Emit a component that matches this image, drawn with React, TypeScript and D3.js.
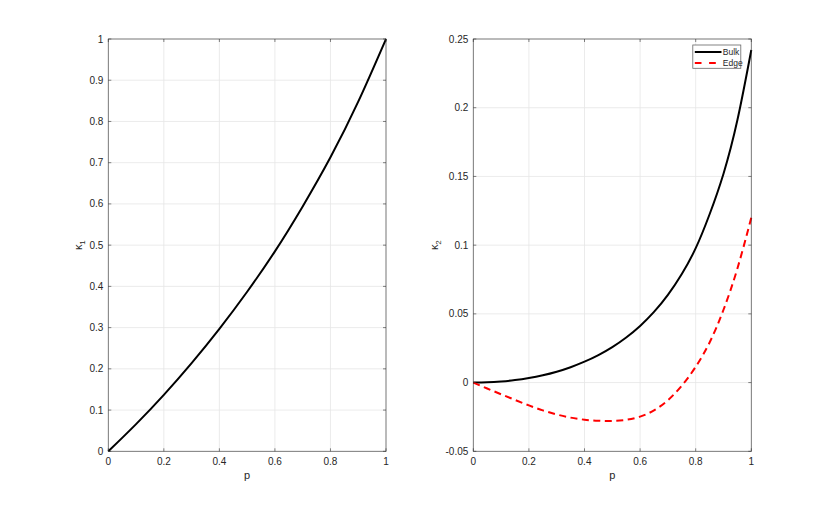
import React from "react";
import * as d3 from "d3";

const pLeft = [0, 0.1, 0.2, 0.3, 0.4, 0.5, 0.6, 0.7, 0.8, 0.9, 1.0];
const kappa1 = [0, 0.066, 0.137, 0.214, 0.297, 0.387, 0.485, 0.594, 0.713, 0.848, 1.0];

const pRight = [0, 0.05, 0.1, 0.15, 0.2, 0.25, 0.3, 0.35, 0.4, 0.45, 0.5, 0.55, 0.6, 0.65, 0.7, 0.75, 0.8, 0.85, 0.9, 0.95, 1.0];
const bulk = [0, 0.0002, 0.0008, 0.0018, 0.0033, 0.0053, 0.0079, 0.0112, 0.0152, 0.02, 0.0258, 0.0328, 0.0412, 0.0514, 0.0638, 0.079, 0.0978, 0.1225, 0.152, 0.191, 0.242];
const edge = [0, -0.0043, -0.0085, -0.0126, -0.0166, -0.0202, -0.0232, -0.0255, -0.027, -0.0278, -0.0279, -0.0271, -0.0248, -0.0202, -0.0128, -0.0022, 0.0115, 0.0292, 0.053, 0.083, 0.12];

const xTicks = [0, 0.2, 0.4, 0.6, 0.8, 1];
const xTickLabels = ["0", "0.2", "0.4", "0.6", "0.8", "1"];
const yTicksLeft = [0, 0.1, 0.2, 0.3, 0.4, 0.5, 0.6, 0.7, 0.8, 0.9, 1];
const yTickLabelsLeft = ["0", "0.1", "0.2", "0.3", "0.4", "0.5", "0.6", "0.7", "0.8", "0.9", "1"];
const yTicksRight = [-0.05, 0, 0.05, 0.1, 0.15, 0.2, 0.25];
const yTickLabelsRight = ["-0.05", "0", "0.05", "0.1", "0.15", "0.2", "0.25"];
const legendLabels = ["Bulk", "Edge"];

const FONT = "'Liberation Sans', Arial, Helvetica, sans-serif";
const AX = "#262626";
const GRID = "#e6e6e6";

type Series = { xs: number[]; ys: number[]; color: string; dash?: string; legendDash?: string };

function Panel(props: {
  left: number; top: number; width: number; height: number;
  yDomain: [number, number]; yTicks: number[]; yLabels: string[];
  ylab: string; ylabOffset: number; series: Series[]; legend?: boolean;
}) {
  const { left, top, width, height, yDomain, yTicks, yLabels, ylab, ylabOffset, series, legend } = props;
  const x = d3.scaleLinear().domain([0, 1]).range([left, left + width]);
  const y = d3.scaleLinear().domain(yDomain).range([top + height, top]);
  const tl = 3;
  return (
    <g>
      <rect x={left} y={top} width={width} height={height} fill="white" />
      {xTicks.map((t, i) => (
        <line key={"gx" + i} x1={x(t)} x2={x(t)} y1={top} y2={top + height} stroke={GRID} strokeWidth={0.8} />
      ))}
      {yTicks.map((t, i) => (
        <line key={"gy" + i} x1={left} x2={left + width} y1={y(t)} y2={y(t)} stroke={GRID} strokeWidth={0.8} />
      ))}
      {series.map((s, i) => {
        const line = d3.line<number>().x((_, j) => x(s.xs[j])).y((v) => y(v)).curve(d3.curveNatural);
        return (
          <path key={"s" + i} d={line(s.ys) || ""} fill="none" stroke={s.color} strokeWidth={2}
            strokeDasharray={s.dash} />
        );
      })}
      <rect x={left} y={top} width={width} height={height} fill="none" stroke={AX} strokeOpacity={0.7} strokeWidth={0.8} />
      {xTicks.map((t, i) => (
        <g key={"tx" + i}>
          <line x1={x(t)} x2={x(t)} y1={top + height} y2={top + height - tl} stroke={AX} strokeWidth={0.8} strokeOpacity={0.7} />
          <line x1={x(t)} x2={x(t)} y1={top} y2={top + tl} stroke={AX} strokeWidth={0.8} strokeOpacity={0.7} />
          <text x={x(t)} y={top + height + 14} textAnchor="middle" fontSize={10} fill={AX} fontFamily={FONT}>{xTickLabels[i]}</text>
        </g>
      ))}
      {yTicks.map((t, i) => (
        <g key={"ty" + i}>
          <line x1={left} x2={left + tl} y1={y(t)} y2={y(t)} stroke={AX} strokeWidth={0.8} strokeOpacity={0.7} />
          <line x1={left + width} x2={left + width - tl} y1={y(t)} y2={y(t)} stroke={AX} strokeWidth={0.8} strokeOpacity={0.7} />
          <text x={left - 5} y={y(t) + 3.5} textAnchor="end" fontSize={10} fill={AX} fontFamily={FONT}>{yLabels[i]}</text>
        </g>
      ))}
      <text x={left + width / 2} y={top + height + 28} textAnchor="middle" fontSize={11} fill={AX} fontFamily={FONT}>p</text>
      <text transform={`translate(${left - ylabOffset},${top + height / 2}) rotate(-90)`} textAnchor="middle" fontSize={11} fill={AX} fontFamily={FONT}>
        {"\u03ba"}<tspan fontSize={8} dy={3}>{ylab}</tspan>
      </text>
      {legend && (
        <g>
          <rect x={left + width - 58.5} y={top + 6} width={48} height={23.3} fill="white" stroke={AX} strokeOpacity={0.7} strokeWidth={0.8} />
          {series.map((s, i) => (
            <g key={"lg" + i}>
              <line x1={left + width - 56.5} x2={left + width - 29.8} y1={top + 13 + i * 11} y2={top + 13 + i * 11}
                stroke={s.color} strokeWidth={2} strokeDasharray={s.legendDash} />
              <text x={left + width - 28.5} y={top + 16 + i * 11} fontSize={8.5} fill={AX} fontFamily={FONT}>{legendLabels[i]}</text>
            </g>
          ))}
        </g>
      )}
    </g>
  );
}

export default function App() {
  return (
    <svg width={830} height={507} style={{ position: "absolute", left: 0, top: 0, background: "white" }}>
      <rect x={0} y={0} width={830} height={507} fill="white" />
      <Panel left={108.3} top={39} width={277.7} height={412.3} yDomain={[0, 1]} yTicks={yTicksLeft}
        yLabels={yTickLabelsLeft} ylab="1" ylabOffset={26} series={[{ xs: pLeft, ys: kappa1, color: "#000000" }]} />
      <Panel left={473.3} top={39} width={278} height={412.3} yDomain={[-0.05, 0.25]} yTicks={yTicksRight}
        yLabels={yTickLabelsRight} ylab="2" ylabOffset={35} legend
        series={[
          { xs: pRight, ys: bulk, color: "#000000" },
          { xs: pRight, ys: edge, color: "#ff0000", dash: "7,4.5", legendDash: "6.7,7.6" },
        ]} />
    </svg>
  );
}
